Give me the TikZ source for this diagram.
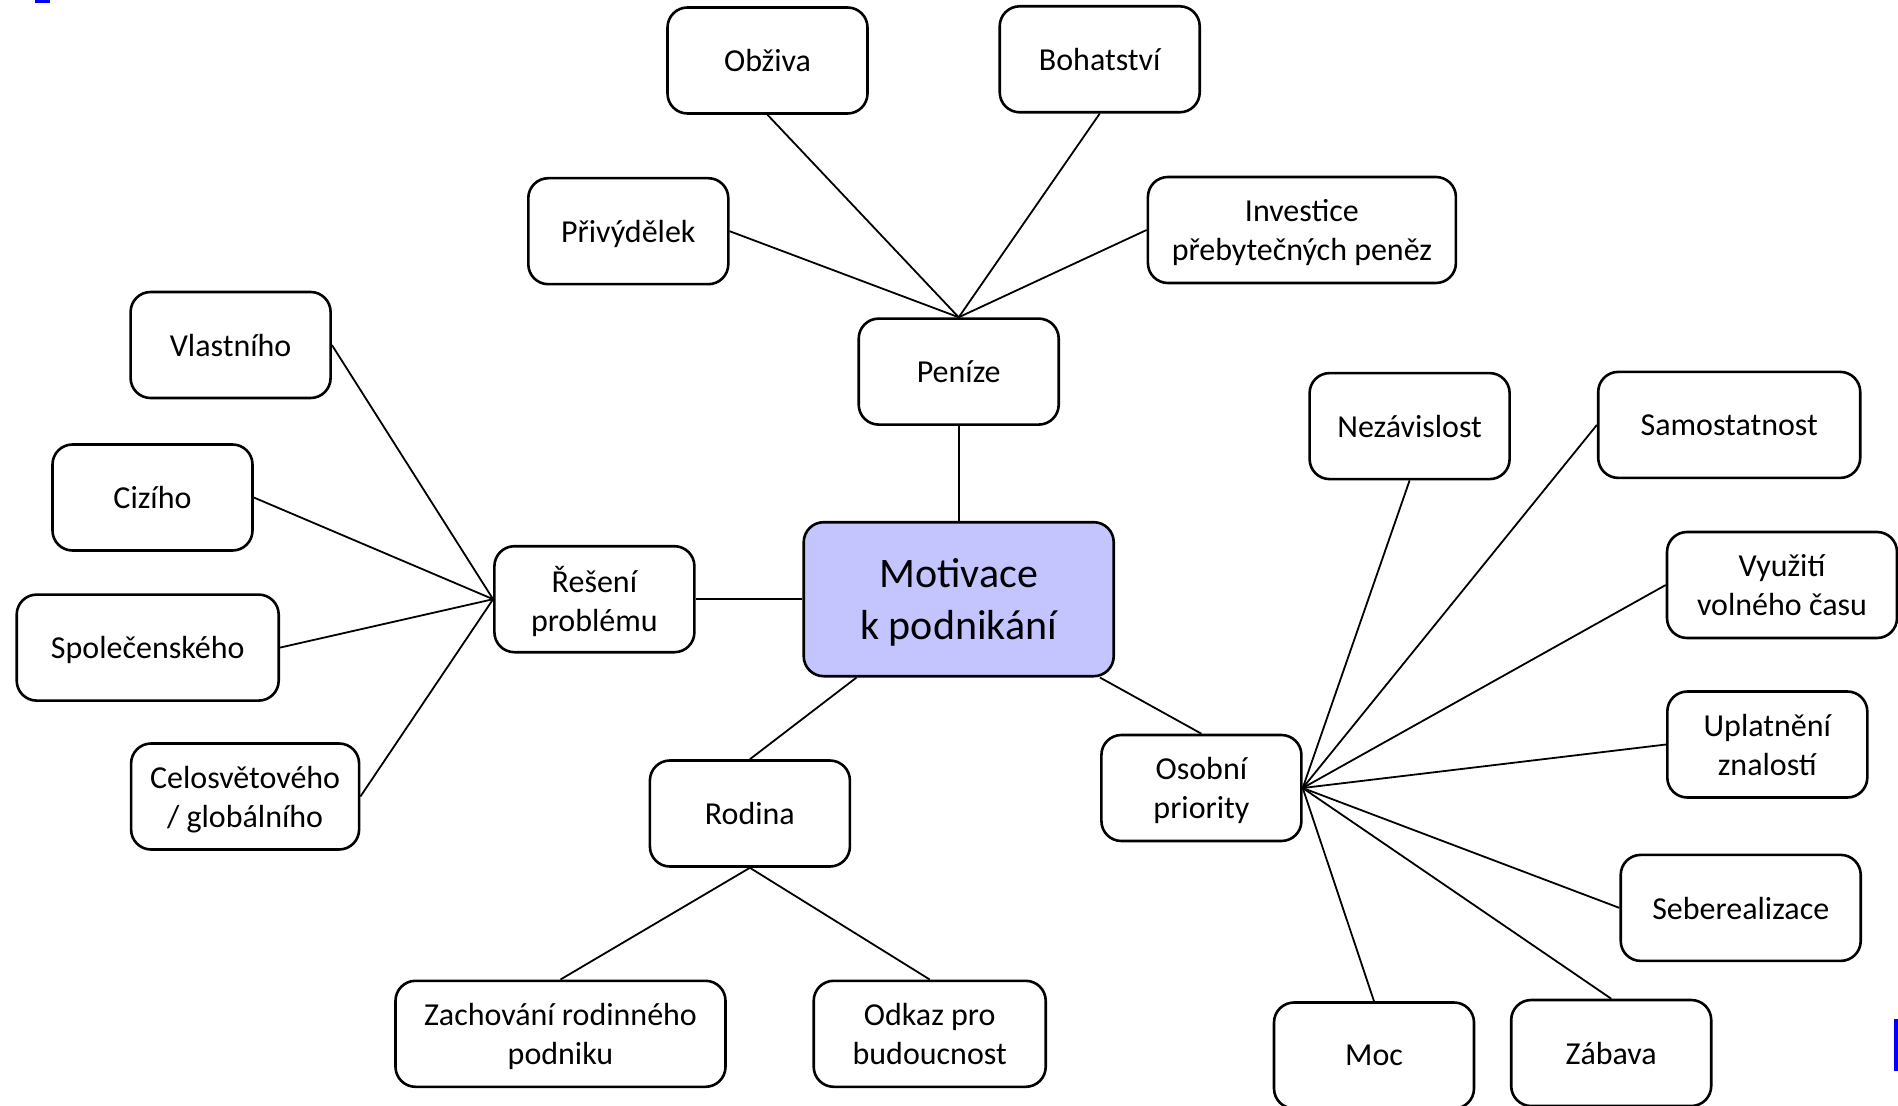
\documentclass[tikz,border=0pt]{standalone}
\usepackage{fontspec}
\setmainfont{Carlito}
\begin{document}
\begin{tikzpicture}[x=0.5pt,y=-0.5pt,
  box/.style={draw,line width=1.3pt,rounded corners=10pt,align=center,text depth=0pt,
    minimum width=100pt,minimum height=53pt,inner sep=0pt,font=\fontsize{16}{19.4}\selectfont},
  link/.style={line width=0.9pt}]
\clip (0,0) rectangle (1898,1106);
\fill[white] (0,0) rectangle (1898,1106);
% stray slide marks
\fill[blue] (35,0) rectangle (50,3);
\fill[blue] (1894,1019) rectangle (1898,1071);

% centre
\node[box,fill=blue!23,minimum width=155pt,minimum height=77pt,
  font=\fontsize{21}{26}\selectfont] (mot) at (958.7,599.2) {Motivace\\k podnikání};

% money
\node[box] (pen) at (958.7,371.6) {Peníze};
\node[box] (obz) at (767.5,60.5) {Obživa};
\node[box] (boh) at (1099.7,59.3) {Bohatství};
\node[box] (pri) at (628.3,231.2) {Přivýdělek};
\node[box,minimum width=154pt] (inv) at (1301.9,230) {Investice\\přebytečných peněz};

% problems
\node[box] (res) at (594.4,599.2) {Řešení\\problému};
\node[box] (vla) at (230.6,345) {Vlastního};
\node[box] (ciz) at (152.5,497.5) {Cizího};
\node[box,minimum width=131pt] (spo) at (147.7,647.6) {Společenského};
\node[box,minimum width=114pt] (cel) at (245.1,796.5) {Celosvětového\\/ globálního};

% family
\node[box] (rod) at (749.9,813.5) {Rodina};
\node[box,minimum width=165pt] (zach) at (560.5,1033.8) {Zachování rodinného\\podniku};
\node[box,minimum width=116pt] (odk) at (929.7,1033.8) {Odkaz pro\\budoucnost};

% personal priorities
\node[box] (oso) at (1201.4,788) {Osobní\\priority};
\node[box] (nez) at (1409.6,426.1) {Nezávislost};
\node[box,minimum width=131pt] (sam) at (1729.2,424.9) {Samostatnost};
\node[box,minimum width=115pt] (vyu) at (1782,585) {Využití\\volného času};
\node[box] (upl) at (1767.3,744.5) {Uplatnění\\znalostí};
\node[box,minimum width=120pt] (seb) at (1740.7,907.9) {Seberealizace};
\node[box] (moc) at (1374,1055.5) {Moc};
\node[box] (zab) at (1611.2,1053) {Zábava};

\draw[link] (mot) -- (pen);
\draw[link] (mot) -- (res);
\draw[link] (mot) -- (rod.north);
\draw[link] (mot) -- (oso.north);

\foreach \n in {obz.south,boh.south,pri.east,inv.west}
  \draw[link] (pen.north) -- (\n);
\foreach \n in {vla.east,ciz.east,spo.east,cel.east}
  \draw[link] (res.west) -- (\n);
\foreach \n in {zach.north,odk.north}
  \draw[link] (rod.south) -- (\n);
\foreach \n in {nez.south,sam.west,vyu.west,upl.west,seb.west,zab.north,moc.north}
  \draw[link] (oso.east) -- (\n);

\end{tikzpicture}
\end{document}
